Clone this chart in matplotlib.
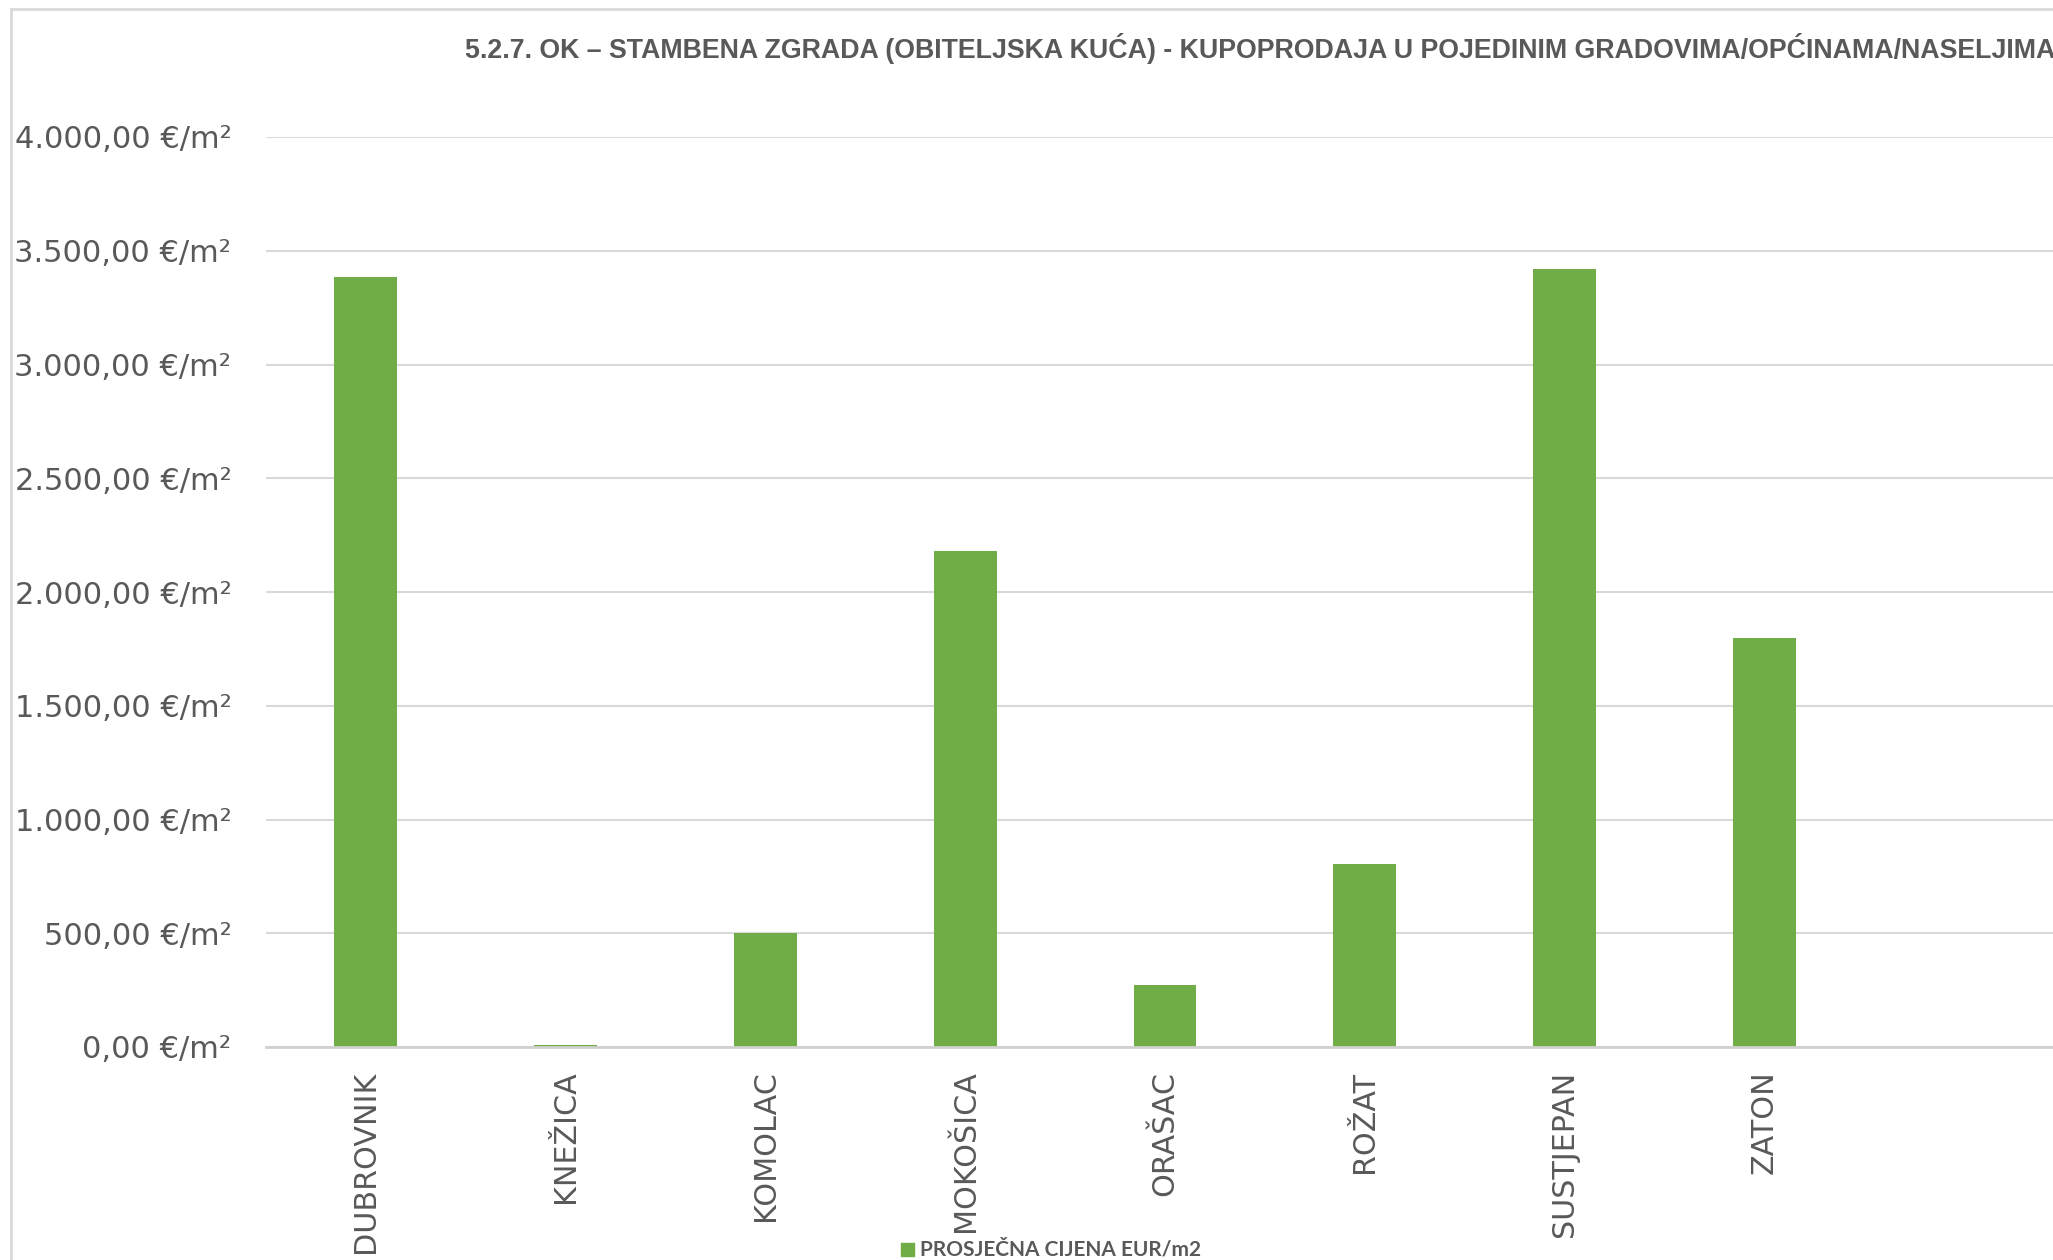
import matplotlib.pyplot as plt
from matplotlib.patches import Rectangle

# data
naselja = ["DUBROVNIK", "KNEŽICA", "KOMOLAC", "MOKOŠICA", "ORAŠAC",
           "ROŽAT", "SUSTJEPAN", "ZATON"]
cijena = [3383, 10, 502, 2180, 272, 804, 3420, 1796]
y_ticks = [0, 500, 1000, 1500, 2000, 2500, 3000, 3500, 4000]

title = ("5.2.7. OK – STAMBENA ZGRADA (OBITELJSKA KUĆA) - KUPOPRODAJA U "
         "POJEDINIM GRADOVIMA/OPĆINAMA/NASELJIMA")
legend_label = "PROSJEČNA CIJENA EUR/m2"

green = "#70AD47"
txt = "#595959"
grid = "#d9d9d9"


def fmt(v):
    s = "{:,.2f}".format(v).replace(",", "X").replace(".", ",").replace("X", ".")
    return s + " €/m²"


fig = plt.figure(figsize=(20.53, 12.6), dpi=100)

# chart frame (left and top border of the original chart area)
fig.add_artist(Rectangle((11 / 2053, -0.1), 1.2, 1.1 - 9 / 1260,
                         transform=fig.transFigure, fill=False,
                         edgecolor=grid, linewidth=2))

ax = fig.add_axes([266 / 2053, 213 / 1260, 1798 / 2053, 910 / 1260])
x = list(range(len(naselja)))
ax.bar(x, cijena, width=0.315, color=green, zorder=3)

ax.set_xlim(-0.5, 8.5)
ax.set_ylim(0, 4000)
ax.set_yticks(y_ticks)
ax.set_yticklabels([fmt(v) for v in y_ticks], fontsize=22, color=txt)
ax.set_xticks(x)
ax.set_xticklabels(naselja, rotation=90, fontsize=21.7, color=txt, va="top")
ax.tick_params(length=0)
ax.tick_params(axis="y", pad=25)
ax.tick_params(axis="x", pad=17)
ax.grid(axis="y", color=grid, linewidth=1.5, zorder=0)
for s in ["top", "right", "left"]:
    ax.spines[s].set_visible(False)
ax.spines["bottom"].set_color("#d0d0d0")
ax.spines["bottom"].set_linewidth(2)
ax.spines["bottom"].set_zorder(4)

fig.text(465 / 2053, 1 - 48 / 1260, title, fontsize=19.3, fontweight="bold",
         family="Liberation Sans", color=txt, ha="left", va="center")

# legend at the bottom
fig.add_artist(Rectangle((901 / 2053, 1 - 1256 / 1260), 13 / 2053, 13 / 1260,
                         transform=fig.transFigure, color=green))
fig.text(920 / 2053, 1 - 1249 / 1260, legend_label, fontsize=15,
         fontweight="bold", family="Lato", color=txt, ha="left", va="center")

plt.savefig("out.png", dpi=100)
